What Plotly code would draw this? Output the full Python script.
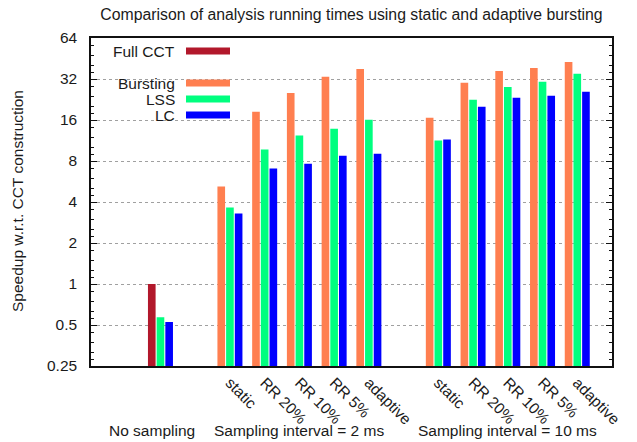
import plotly.graph_objects as go

# ---- data ----
group_titles = ["No sampling", "Sampling interval = 2 ms", "Sampling interval = 10 ms"]
sub_labels = ["static", "RR 20%", "RR 10%", "RR 5%", "adaptive"]

full_cct_nosampling = [1.0]
lss_nosampling = [0.57]
lc_nosampling = [0.525]

bursting_2ms = [5.2, 18.4, 25.3, 33.2, 37.9]
lss_2ms = [3.65, 9.7, 12.3, 13.8, 16.1]
lc_2ms = [3.30, 7.04, 7.65, 8.76, 9.06]

bursting_10ms = [16.6, 30.0, 36.7, 38.6, 42.7]
lss_10ms = [11.3, 22.5, 28.0, 30.5, 34.9]
lc_10ms = [11.5, 20.0, 23.3, 24.1, 25.8]

y_ticks = [0.25, 0.5, 1, 2, 4, 8, 16, 32, 64]
y_tick_text = ["0.25", "0.5", "1", "2", "4", "8", "16", "32", "64"]
minor_mult = [1.125, 1.25, 1.5, 1.75]

# ---- layout of clusters (one empty slot between groups) ----
x_nosamp = [0]
x_2ms = [2 + i for i in range(len(sub_labels))]
x_10ms = [x_2ms[-1] + 2 + i for i in range(len(sub_labels))]

C_FULL = "#B2182B"
C_BURST = "#FF7F50"
C_LSS = "#00FF7F"
C_LC = "#0000FF"

fig = go.Figure()
fig.add_trace(go.Bar(x=x_nosamp, y=full_cct_nosampling, name="Full CCT",
                     marker_color=C_FULL, offsetgroup="a"))
fig.add_trace(go.Bar(x=x_2ms + x_10ms, y=bursting_2ms + bursting_10ms, name="Bursting",
                     marker_color=C_BURST, offsetgroup="a"))
fig.add_trace(go.Bar(x=x_nosamp + x_2ms + x_10ms, y=lss_nosampling + lss_2ms + lss_10ms,
                     name="LSS", marker_color=C_LSS, offsetgroup="b"))
fig.add_trace(go.Bar(x=x_nosamp + x_2ms + x_10ms, y=lc_nosampling + lc_2ms + lc_10ms,
                     name="LC", marker_color=C_LC, offsetgroup="c"))
for t in fig.data:
    t.marker.line.width = 0

FONT = "Liberation Sans, Arial, Helvetica, sans-serif"
FS = 15.5
TXT = "#1a1a1a"

minor_vals = [p * m for p in y_ticks[:-1] for m in minor_mult]

fig.update_layout(
    width=637, height=442,
    margin=dict(l=91, r=25, t=38, b=76),
    paper_bgcolor="white", plot_bgcolor="white",
    barmode="group", bargap=0.25, bargroupgap=0.12,
    showlegend=False,
    font=dict(family=FONT, size=FS, color=TXT),
    title=dict(text="Comparison of analysis running times using static and adaptive bursting",
               x=0.5, xref="paper", y=1 - 14 / 442, yanchor="middle",
               font=dict(family=FONT, size=15.8, color=TXT)),
)

fig.update_xaxes(
    range=[-2, 13], showgrid=False, zeroline=False,
    tickmode="array", tickvals=x_2ms + x_10ms, ticktext=sub_labels + sub_labels,
    tickangle=45, ticks="", showline=True, linecolor="#111", linewidth=1.5, mirror=True,
    tickfont=dict(family=FONT, size=FS, color=TXT),
)
fig.update_yaxes(
    type="log", range=[-0.60206, 1.80618],
    tickmode="array", tickvals=y_ticks, ticktext=y_tick_text,
    ticks="inside", ticklen=6, tickwidth=1, tickcolor="#111",
    showline=True, linecolor="#111", linewidth=1.5, mirror="ticks",
    showgrid=True, gridcolor="#a0a0a0", gridwidth=1, griddash="dot",
    zeroline=False, ticklabelstandoff=9,
    minor=dict(tickmode="array", tickvals=minor_vals, ticks="inside", ticklen=3.5,
               tickwidth=1, tickcolor="#111", showgrid=False),
    tickfont=dict(family=FONT, size=FS, color=TXT),
)

# white box behind the key to hide grid lines (gnuplot style)
fig.add_shape(type="rect", xref="paper", yref="paper", x0=0.003, x1=0.286, y0=0.695, y1=0.997,
              fillcolor="white", line_width=0, layer="between")

# key (gnuplot style: text left, sample right)
key = [("Full CCT", C_FULL, 51), ("Bursting", C_BURST, 83), ("LSS", C_LSS, 99), ("LC", C_LC, 115)]
for label, col, ypx in key:
    yp = (366 - ypx) / 328
    fig.add_annotation(text=label, xref="paper", yref="paper", x=(177 - 91) / 521, y=yp,
                       xanchor="right", yanchor="middle", showarrow=False,
                       font=dict(family=FONT, size=FS, color=TXT))
    fig.add_shape(type="rect", xref="paper", yref="paper",
                  x0=(186 - 91) / 521, x1=(230 - 91) / 521,
                  y0=yp - 3.5 / 328, y1=yp + 3.5 / 328,
                  fillcolor=col, line_width=0, layer="above")

# group titles
group_x = [-0.23, sum(x_2ms) / len(x_2ms), sum(x_10ms) / len(x_10ms)]
for title, gx in zip(group_titles, group_x):
    fig.add_annotation(text=title, xref="x", yref="paper", x=gx, y=(366 - 430) / 328,
                       xanchor="center", yanchor="middle", showarrow=False,
                       font=dict(family=FONT, size=FS, color=TXT))

# y axis title
fig.add_annotation(text="Speedup w.r.t. CCT construction", xref="paper", yref="paper",
                   x=(17 - 91) / 521, y=(366 - 201) / 328, textangle=-90,
                   xanchor="center", yanchor="middle", showarrow=False,
                   font=dict(family=FONT, size=FS, color=TXT))

fig.write_html("out.html", config={"displayModeBar": False},
               post_script="document.body.style.margin='0';")
